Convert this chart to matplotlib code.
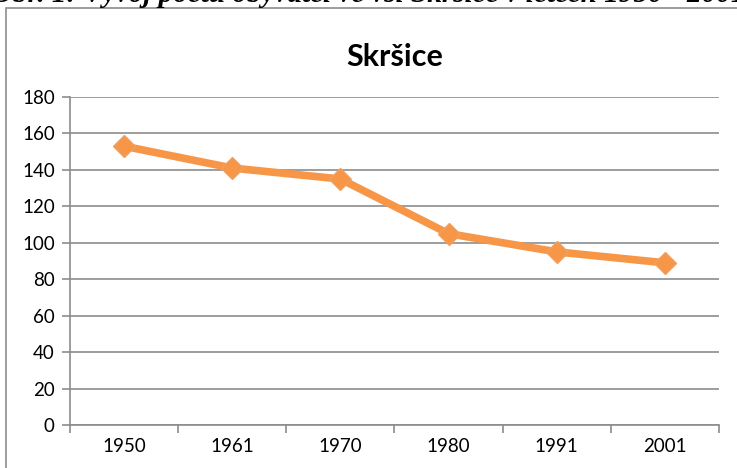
import numpy as np
import matplotlib.pyplot as plt
from matplotlib.patches import Rectangle

# Données : population de Skršice
roky = ['1950', '1961', '1970', '1980', '1991', '2001']
obyvatele = [153, 141, 135, 105, 95, 89]
y_ticks = [0, 20, 40, 60, 80, 100, 120, 140, 160, 180]

W, H = 737, 468
fig = plt.figure(figsize=(W / 100, H / 100), dpi=100)
fig.patch.set_facecolor('white')

# cadre du graphique (coupé à droite et en bas)
fig.patches.append(Rectangle((6 / W, -0.1), 1.2, 1 - 8 / H + 0.1,
                             transform=fig.transFigure, fill=False,
                             edgecolor='#8c8c8c', linewidth=1.2))

# légende de la figure, coupée en haut
fig.text(0.5, 1 - 2 / H,
         'Obr. 1: Vývoj počtu obyvatel ve vsi Skršice v letech 1950 - 2001',
         ha='center', va='baseline', fontsize=21, fontweight='bold',
         fontstyle='italic', family='Liberation Serif')

ax = fig.add_axes([70 / W, 1 - 425 / H, (719 - 70) / W, (425 - 97) / H])
x = np.arange(len(roky))
ax.plot(x, obyvatele, color='#f79646', linewidth=5.5, marker='D',
        markersize=11, markerfacecolor='#f79646', markeredgecolor='#f0a060',
        zorder=3)

ax.set_xlim(-0.5, len(roky) - 0.5)
ax.set_ylim(0, 180)
ax.set_yticks(y_ticks)
ax.set_xticks(x)
ax.set_xticklabels(roky)
ax.set_xticks(np.arange(-0.5, len(roky)), minor=True)
ax.tick_params(axis='x', which='major', length=0, pad=9, labelsize=13.5)
ax.tick_params(axis='x', which='minor', length=6, color='#8c8c8c', width=1.2)
ax.tick_params(axis='y', length=6, color='#8c8c8c', width=1.2, pad=5, labelsize=13.5)
for lbl in ax.get_xticklabels() + ax.get_yticklabels():
    lbl.set_family('Lato')

ax.grid(axis='y', color='#8c8c8c', linewidth=1.2)
ax.set_axisbelow(True)
for s in ['top', 'right']:
    ax.spines[s].set_visible(False)
for s in ['left', 'bottom']:
    ax.spines[s].set_color('#8c8c8c')
    ax.spines[s].set_linewidth(1.2)

ax.set_title('Skršice', fontsize=22, fontweight='bold', family='Lato', pad=22)

fig.savefig('out.png', dpi=100)
